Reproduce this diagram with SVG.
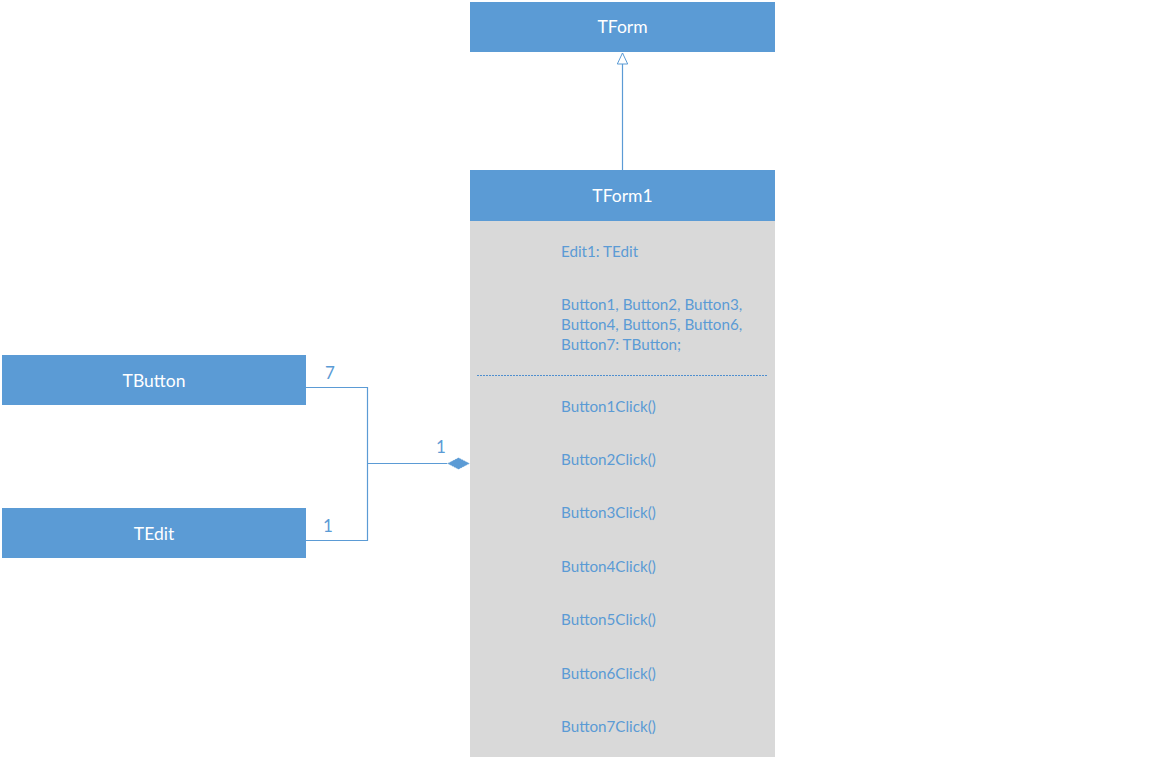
<svg xmlns="http://www.w3.org/2000/svg" width="1152" height="759" viewBox="0 0 1152 759">
  <style>
    .hdr { fill: #5B9BD5; }
    .body { fill: #D9D9D9; }
    .title { font-family: Lato, "Open Sans", "Liberation Sans", sans-serif; font-size: 17.5px; fill: #FFFFFF; text-anchor: middle; }
    .member { font-family: Lato, "Open Sans", "Liberation Sans", sans-serif; font-size: 15.2px; fill: #5B9BD5; }
    .mult { font-family: Lato, "Open Sans", "Liberation Sans", sans-serif; font-size: 17px; fill: #5B9BD5; }
    .wire { fill: none; stroke: #5B9BD5; stroke-width: 1.2; }
  </style>
  <defs>
    <!-- hollow triangle for generalization, drawn along +x with its tip at the line end -->
    <marker id="inherit" viewBox="0 0 12 12" refX="11.5" refY="6" markerWidth="12" markerHeight="12" markerUnits="userSpaceOnUse" orient="auto">
      <path d="M11.5 6 L0.5 0.8 L0.5 11.2 Z" fill="#FFFFFF" stroke="#5B9BD5" stroke-width="1"/>
    </marker>
  </defs>
  <rect width="1152" height="759" fill="#FFFFFF"/>

  <g id="TForm">
    <rect class="hdr" x="470" y="2" width="305" height="50"/>
    <text class="title" x="622.5" y="33">TForm</text>
  </g>

  <g id="TForm1">
    <rect class="body" x="470" y="221" width="305" height="536"/>
    <rect class="hdr" x="470" y="170" width="305" height="51"/>
    <text class="title" x="622.5" y="202">TForm1</text>
    <text class="member" x="561" y="257">Edit1: TEdit</text>
    <text class="member" x="561" y="310">Button1, Button2, Button3,</text>
    <text class="member" x="561" y="330">Button4, Button5, Button6,</text>
    <text class="member" x="561" y="350">Button7: TButton;</text>
    <line x1="477" y1="375.5" x2="768" y2="375.5" stroke="#4F8FCF" stroke-width="1" stroke-dasharray="2,1"/>
    <text class="member" x="561" y="412">Button1Click()</text>
    <text class="member" x="561" y="465">Button2Click()</text>
    <text class="member" x="561" y="518">Button3Click()</text>
    <text class="member" x="561" y="572">Button4Click()</text>
    <text class="member" x="561" y="625">Button5Click()</text>
    <text class="member" x="561" y="679">Button6Click()</text>
    <text class="member" x="561" y="732">Button7Click()</text>
  </g>

  <g id="TButton">
    <rect class="hdr" x="2" y="355" width="304" height="50"/>
    <text class="title" x="154" y="387">TButton</text>
  </g>

  <g id="TEdit">
    <rect class="hdr" x="2" y="508" width="304" height="50"/>
    <text class="title" x="154" y="540">TEdit</text>
  </g>

  <g id="connectors">
    <!-- generalization TForm1 -> TForm -->
    <line class="wire" x1="622.5" y1="170" x2="622.5" y2="53" marker-end="url(#inherit)"/>
    <!-- composition TButton / TEdit -> TForm1 -->
    <polyline class="wire" points="306,387.5 367.5,387.5 367.5,540.5 306,540.5"/>
    <line class="wire" x1="367.5" y1="463.5" x2="448" y2="463.5"/>
    <path d="M447 463.5 L458.5 457.5 L470 463.5 L458.5 469.5 Z" fill="#5B9BD5" stroke="#FFFFFF" stroke-width="0.8" stroke-dasharray="1,1"/>
    <text class="mult" x="325" y="379">7</text>
    <text class="mult" x="323" y="532">1</text>
    <text class="mult" x="436" y="453">1</text>
  </g>
</svg>
